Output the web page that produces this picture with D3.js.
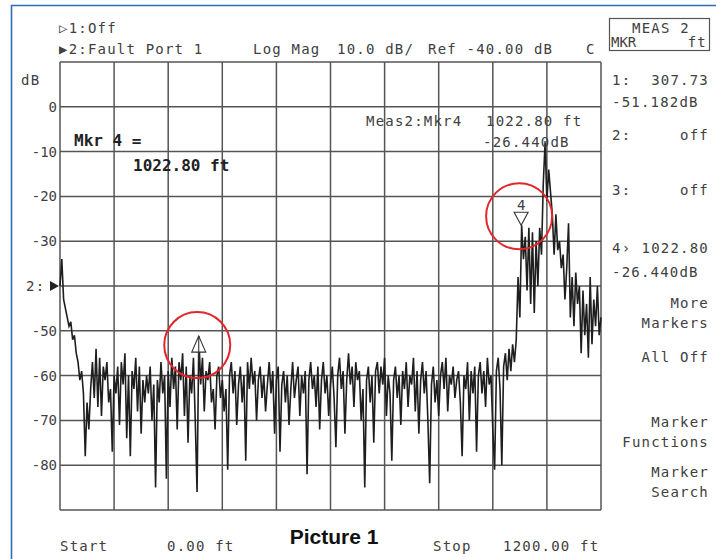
<!DOCTYPE html>
<html>
<head>
<meta charset="utf-8">
<script src="https://cdn.jsdelivr.net/npm/d3@7"></script>
<style>
  html, body { margin: 0; padding: 0; background: #fff; }
  svg { display: block; }
  .mono { font-family: "DejaVu Sans Mono", monospace; font-size: 14px; letter-spacing: 1.2px; fill: #404040; }
  .big { font-family: "DejaVu Sans Mono", monospace; font-size: 16px; font-weight: bold; fill: #222; }
</style>
</head>
<body>
<svg id="chart" width="716" height="559"></svg>
<script>
// sweep: 0 .. 1200 ft, one point every 4 ft
const startFt = 0;
const stopFt = 1200;
const stepFt = 4;

// trace values (dB), one per sweep point
const traceDb = [
  -40, -34, -43, -45, -47, -49, -48, -52, -51, -55,
  -57, -61, -59, -64, -78, -66, -72, -63, -57, -65,
  -54, -67, -56, -69, -58, -61, -57, -66, -63, -77,
  -60, -64, -58, -71, -57, -62, -55, -74, -60, -78,
  -59, -63, -56, -68, -58, -73, -61, -66, -60, -64,
  -58, -70, -62, -85, -61, -66, -57, -64, -60, -83,
  -59, -67, -56, -63, -58, -72, -57, -61, -55, -69,
  -58, -75, -60, -64, -56, -70, -86, -51.2, -62, -56,
  -68, -59, -61, -57, -66, -63, -72, -60, -58, -65,
  -61, -68, -63, -81, -60, -57, -64, -59, -71, -62,
  -58, -66, -60, -79, -57, -63, -56, -62, -59, -70,
  -61, -58, -65, -60, -68, -62, -57, -64, -59, -73,
  -61, -58, -77, -62, -59, -66, -60, -71, -63, -57,
  -65, -61, -58, -69, -60, -64, -59, -82, -61, -57,
  -63, -60, -67, -58, -72, -61, -57, -64, -60, -69,
  -62, -58, -65, -76, -60, -56, -63, -59, -73, -61,
  -55, -62, -58, -67, -57, -61, -59, -70, -63, -85,
  -61, -58, -66, -60, -75, -59, -57, -64, -58, -62,
  -56, -69, -60, -64, -79, -61, -58, -65, -60, -71,
  -59, -63, -57, -67, -60, -62, -56, -68, -59, -73,
  -61, -57, -64, -59, -70, -84, -62, -58, -66, -61,
  -69, -60, -57, -63, -56, -68, -60, -62, -58, -65,
  -61, -59, -66, -78, -60, -63, -57, -70, -59, -64,
  -58, -77, -60, -57, -64, -59, -67, -56, -62, -60,
  -72, -81, -59, -56, -63, -80, -58, -55, -61, -54,
  -59, -53, -57, -52, -38, -47, -26.44, -34, -29, -41,
  -27, -44, -28, -46, -30, -40, -27, -33, -17, -8,
  -21, -14, -19, -24, -33, -24, -32, -30, -36, -33,
  -43, -36, -26, -47, -38, -49, -37, -44, -40, -55,
  -41, -51, -44, -56, -38, -53, -43, -49, -40, -51,
  -47
];

const markerIds = [1, 4];
const markerFt = [307.73, 1022.80];
const markerDb = [-51.182, -26.440];
const markerDir = ['up', 'down'];

// -40 dB carries the "2:" reference arrow instead of a number
const yTicks = [0, -10, -20, -30, -50, -60, -70, -80];
const refDb = -40;

const softkeys = [
  ['More', 'Markers'],
  ['All Off'],
  ['Marker', 'Functions'],
  ['Marker', 'Search']
];

const svg = d3.select('#chart');

const x = d3.scaleLinear().domain([startFt, stopFt]).range([60, 601]);
const y = d3.scaleLinear().domain([10, -90]).range([62, 510]);

// blue page frame
svg.append('path')
  .attr('d', 'M11.5,559 V5.5 H716')
  .attr('fill', 'none')
  .attr('stroke', '#2f6db5')
  .attr('stroke-width', 1.6);

// grid
const grid = svg.append('g').attr('stroke', '#555').attr('stroke-width', 1.5);
grid.selectAll('.hline')
  .data(d3.range(10, -91, -10))
  .enter().append('line')
  .attr('x1', x(startFt)).attr('x2', x(stopFt))
  .attr('y1', d => y(d)).attr('y2', d => y(d));
grid.selectAll('.vline')
  .data(d3.range(startFt, stopFt + 1, 120))
  .enter().append('line')
  .attr('x1', d => x(d)).attr('x2', d => x(d))
  .attr('y1', y(10)).attr('y2', y(-90));

// y tick labels
const yAxis = svg.append('g')
  .attr('transform', `translate(${x(startFt)},0)`)
  .call(d3.axisLeft(y).tickValues(yTicks).tickSize(0).tickPadding(3).tickFormat(d => d === 0 ? '0' : '-' + Math.abs(d)));
yAxis.select('.domain').remove();
yAxis.selectAll('text')
  .attr('class', 'mono')
  .style('letter-spacing', '0px')
  .attr('font-family', null).attr('font-size', null);

svg.append('text').attr('class', 'mono').attr('x', 21).attr('y', 85).text('dB');

// reference position marker
svg.append('text').attr('class', 'mono').attr('x', 26).attr('y', y(refDb) + 5).text('2:');
svg.append('path')
  .attr('d', `M${x(startFt) - 10},${y(refDb) - 5} L${x(startFt) - 1},${y(refDb)} L${x(startFt) - 10},${y(refDb) + 5} Z`)
  .attr('fill', '#222');

// trace
const line = d3.line()
  .x((d, i) => x(startFt + i * stepFt))
  .y(d => y(d));
svg.append('path')
  .datum(traceDb)
  .attr('d', line)
  .attr('fill', 'none')
  .attr('stroke', '#1e1e1e')
  .attr('stroke-width', 1.6)
  .attr('stroke-linejoin', 'miter');

// markers
markerIds.forEach((id, i) => {
  const mx = x(markerFt[i]);
  const my = y(markerDb[i]);
  const g = svg.append('g').attr('fill', 'none').attr('stroke', '#333').attr('stroke-width', 1.1);
  if (markerDir[i] === 'up') {
    g.append('path').attr('d', `M${mx},${my} L${mx - 7},${my + 16} L${mx + 7},${my + 16} Z`).attr('fill', '#fff');
    g.append('line').attr('x1', mx).attr('x2', mx).attr('y1', my).attr('y2', my + 26);
    svg.append('circle').attr('cx', mx - 1.5).attr('cy', my + 9).attr('r', 33)
      .attr('fill', 'none').attr('stroke', '#e3262b').attr('stroke-width', 2);
  } else {
    g.append('path').attr('d', `M${mx},${my} L${mx - 7},${my - 13} L${mx + 7},${my - 13} Z`).attr('fill', '#fff');
    svg.append('text').attr('class', 'mono').attr('x', mx).attr('y', my - 15)
      .attr('text-anchor', 'middle').style('letter-spacing', '0px').text(id);
    svg.append('circle').attr('cx', mx - 2).attr('cy', my - 9).attr('r', 33)
      .attr('fill', 'none').attr('stroke', '#e3262b').attr('stroke-width', 2);
  }
});

// header
svg.append('text').attr('class', 'mono').attr('x', 59).attr('y', 33).text('\u25B71:Off');
svg.append('text').attr('class', 'mono').attr('x', 59).attr('y', 54).text('\u25B62:Fault Port 1');
svg.append('text').attr('class', 'mono').attr('x', 253).attr('y', 54).text('Log Mag');
svg.append('text').attr('class', 'mono').attr('x', 337).attr('y', 54).text('10.0 dB/');
svg.append('text').attr('class', 'mono').attr('x', 428).attr('y', 54).text('Ref -40.00 dB');
svg.append('text').attr('class', 'mono').attr('x', 586).attr('y', 54).text('C');

// active marker readouts in the grid
svg.append('text').attr('class', 'big').attr('x', 74).attr('y', 146).text('Mkr 4 =');
svg.append('text').attr('class', 'big').attr('x', 133).attr('y', 171).text('1022.80 ft');
svg.append('text').attr('class', 'mono').attr('x', 366).attr('y', 126).text('Meas2:Mkr4');
svg.append('text').attr('class', 'mono').attr('x', 486).attr('y', 126).text('1022.80 ft');
svg.append('text').attr('class', 'mono').attr('x', 483).attr('y', 147).text('-26.440dB');

// right-hand panel
svg.append('rect').attr('x', 609.5).attr('y', 18.5).attr('width', 100).attr('height', 32)
  .attr('fill', 'none').attr('stroke', '#555').attr('stroke-width', 1.2);
svg.append('text').attr('class', 'mono').attr('x', 661).attr('y', 33).attr('text-anchor', 'middle').text('MEAS 2');
svg.append('text').attr('class', 'mono').attr('x', 611).attr('y', 47).style('letter-spacing', '0px').text('MKR');
svg.append('text').attr('class', 'mono').attr('x', 707).attr('y', 47).attr('text-anchor', 'end').text('ft');

const panel = [
  ['1:', '307.73', 85],
  [null, '-51.182dB', 107],
  ['2:', 'off', 140],
  ['3:', 'off', 195],
  ['4\u203A', '1022.80', 253],
  [null, '-26.440dB', 277]
];
panel.forEach(r => {
  if (r[0]) {
    svg.append('text').attr('class', 'mono').attr('x', 612).attr('y', r[2]).text(r[0]);
    svg.append('text').attr('class', 'mono').attr('x', 709).attr('y', r[2]).attr('text-anchor', 'end').text(r[1]);
  } else {
    svg.append('text').attr('class', 'mono').attr('x', 612).attr('y', r[2]).text(r[1]);
  }
});

const keyTop = [308, 362, 427, 477];
softkeys.forEach((k, i) => {
  k.forEach((t, j) => {
    svg.append('text').attr('class', 'mono').attr('x', 709).attr('y', keyTop[i] + j * 20)
      .attr('text-anchor', 'end').text(t);
  });
});

// footer
svg.append('text').attr('class', 'mono').attr('x', 60).attr('y', 551).text('Start');
svg.append('text').attr('class', 'mono').attr('x', 167).attr('y', 551).text('0.00 ft');
svg.append('text').attr('class', 'mono').attr('x', 433).attr('y', 551).text('Stop');
svg.append('text').attr('class', 'mono').attr('x', 503).attr('y', 551).text('1200.00 ft');
svg.append('text')
  .attr('x', 334).attr('y', 544)
  .attr('text-anchor', 'middle')
  .attr('font-family', '"Liberation Sans", Arial, sans-serif')
  .attr('font-weight', 'bold')
  .attr('font-size', 21)
  .attr('fill', '#111')
  .text('Picture 1');
</script>
</body>
</html>
